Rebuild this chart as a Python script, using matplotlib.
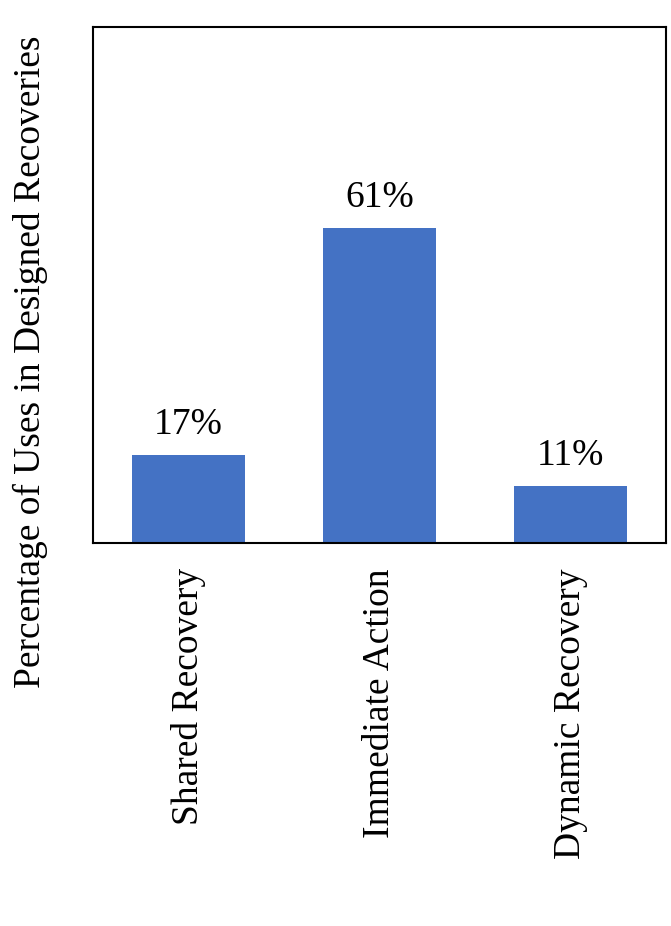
import numpy as np
import matplotlib
matplotlib.use("Agg")
from matplotlib import pyplot as plt

# data
categories = ["Shared Recovery", "Immediate Action", "Dynamic Recovery"]
percentages = [17, 61, 11]
barColor = "#4472C4"

plt.rcParams['font.family'] = ['Liberation Serif', 'DejaVu Serif']

fig = plt.figure(figsize=(6.71, 9.26), dpi=100)
ax = fig.add_axes([0.1386, 0.4136, 0.854, 0.5572])

xPos = np.arange(len(categories))
bars = ax.bar(xPos, percentages, width=0.59, color=barColor)

for b, val in zip(bars, percentages):
    ax.text(b.get_x() + b.get_width() / 2, b.get_height() + 2.5, f"{val}%",
            ha='center', va='bottom', fontsize=27)

ax.set_xlim(-0.5, 2.5)
ax.set_ylim(0, 100)
ax.set_yticks([])
ax.set_xticks(xPos)
ax.set_xticklabels(categories, rotation=90, fontsize=27)
ax.tick_params(axis='x', length=0, pad=18)

# y label sits lower than the axes centre in the original
fig.text(30 / 671, 1 - 362 / 926, "Percentage of Uses in Designed Recoveries",
         rotation=90, ha='center', va='center', fontsize=27)

for s in ax.spines.values():
    s.set_linewidth(1.5)

fig.savefig("out.png", dpi=100)
